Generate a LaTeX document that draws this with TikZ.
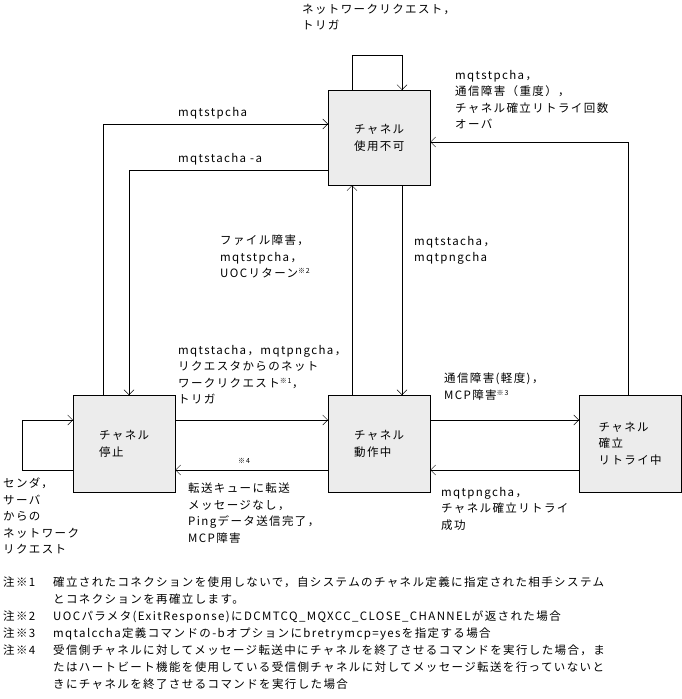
\documentclass[tikz,border=0pt]{standalone}
\usepackage{fontspec}
\setmainfont{Noto Sans CJK JP}[LetterSpace=12]
\usetikzlibrary{arrows.meta}
\newcommand{\kome}[1]{\textsuperscript{\fontsize{7}{7}\selectfont ※#1}}
\begin{document}
\begin{tikzpicture}[x=1pt,y=-1pt,font=\fontsize{11.5}{16.5}\selectfont,
  state/.style={draw,fill=gray!15,minimum width=102pt,minimum height=97pt,anchor=north west,align=left,inner sep=0pt},
  arr/.style={-{Straight Barb[length=5pt,width=10pt]}},
  lbl/.style={anchor=north west,align=left,inner sep=0pt}]
\useasboundingbox (0,0) rectangle (681,699);
\node[state,minimum height=95pt] (top) at (328,90) {};
\node[align=left] at (top.center) {チャネル\\使用不可};
\node[state] (stop) at (73,395) {};
\node[align=left] at (stop.center) {チャネル\\停止};
\node[state] (run) at (328,395) {};
\node[align=left] at (run.center) {チャネル\\動作中};
\node[state] (retry) at (579,395) {};
\node[align=left] at (retry.center) {チャネル\\確立\\リトライ中};
% loops and edges
\coordinate (t1) at (352,55); \coordinate (t2) at (402,55);
\draw[arr] (top.north -| t1) -- (t1) -- (t2) -- (top.north -| t2);
\node[lbl] (l1) at (302,4) {ネットワークリクエスト，\\トリガ};
\coordinate (a1) at (103,124);
\draw[arr] (stop.north -| a1) -- (a1) -- (top.west |- a1);
\node[lbl] (l2) at (178,107) {mqtstpcha};
\coordinate (a2) at (129,170);
\draw[arr] (top.west |- a2) -- (a2) -- (stop.north -| a2);
\node[lbl] (l3) at (178,153) {mqtstacha -a};
\draw[arr] (run.north -| t1) -- (top.south -| t1);
\node[lbl] (l4) at (220,235) {ファイル障害，\\mqtstpcha，\\UOCリターン\kome{2}};
\draw[arr] (top.south -| t2) -- (run.north -| t2);
\node[lbl] (l5) at (414,236) {mqtstacha，\\mqtpngcha};
\coordinate (a3) at (628,142);
\draw[arr] (retry.north -| a3) -- (a3) -- (top.east |- a3);
\node[lbl] (l6) at (455,70) {mqtstpcha，\\通信障害（重度），\\チャネル確立リトライ回数\\オーバ};
\coordinate (h1) at (0,420); \coordinate (h2) at (0,470);
\draw[arr] (stop.east |- h1) -- (run.west |- h1);
\node[lbl] (l7) at (178,345) {mqtstacha，mqtpngcha，\\リクエスタからのネット\\ワークリクエスト\kome{1}，\\トリガ};
\draw[arr] (run.west |- h2) -- (stop.east |- h2);
\node[lbl,font=\fontsize{7}{7}\selectfont] (l8) at (238,458) {※4};
\node[lbl] (l9) at (188,483) {転送キューに転送\\メッセージなし，\\Pingデータ送信完了，\\MCP障害};
\draw[arr] (run.east |- h1) -- (retry.west |- h1);
\node[lbl] (l10) at (444,373) {通信障害(軽度)，\\MCP障害\kome{3}};
\draw[arr] (retry.west |- h2) -- (run.east |- h2);
\node[lbl] (l11) at (441,487) {mqtpngcha，\\チャネル確立リトライ\\成功};
\coordinate (s1) at (22,470); \coordinate (s2) at (22,420);
\draw[arr] (stop.west |- s1) -- (s1) -- (s2) -- (stop.west |- s2);
\node[lbl] (l12) at (3,478) {センダ，\\サーバ\\からの\\ネットワーク\\リクエスト};
% notes
\begin{scope}[every node/.style={lbl,font=\fontsize{11.5}{17}\selectfont}]
\node (n1) at (3,577) {注※1};
\node (n1t) at (53,577) {確立されたコネクションを使用しないで，自システムのチャネル定義に指定された相手システム\\とコネクションを再確立します。};
\node (n2) at (3,611) {注※2};
\node (n2t) at (53,611) {UOCパラメタ(ExitResponse)にDCMTCQ\_MQXCC\_CLOSE\_CHANNELが返された場合};
\node (n3) at (3,628) {注※3};
\node (n3t) at (53,628) {mqtalccha定義コマンドの-bオプションにbretrymcp=yesを指定する場合};
\node (n4) at (3,645) {注※4};
\node (n4t) at (53,645) {受信側チャネルに対してメッセージ転送中にチャネルを終了させるコマンドを実行した場合，ま\\たはハートビート機能を使用している受信側チャネルに対してメッセージ転送を行っていないと\\きにチャネルを終了させるコマンドを実行した場合};
\end{scope}
\end{tikzpicture}
\end{document}
